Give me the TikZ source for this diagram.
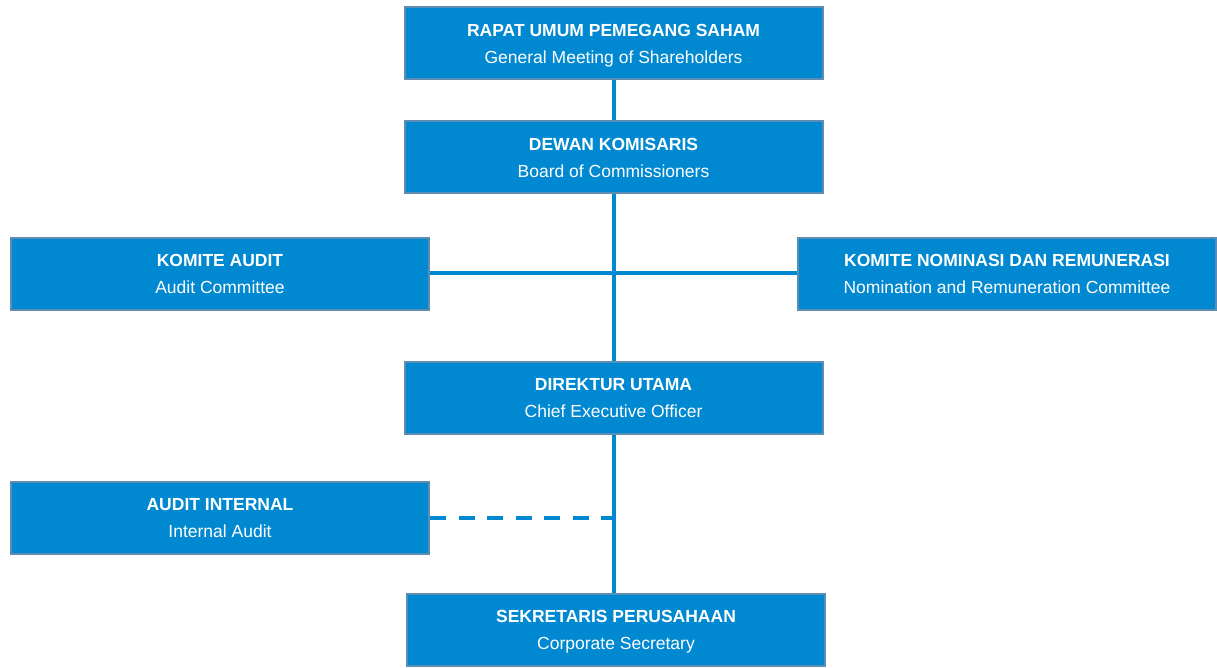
\documentclass[tikz,border=0pt]{standalone}
\usepackage{fontspec}
\setmainfont{Liberation Sans}
\definecolor{boxblue}{HTML}{0088D1}
\definecolor{boxedge}{HTML}{5E8DB3}
\definecolor{lineblue}{HTML}{0088D1}
\begin{document}
\begin{tikzpicture}[x=1pt,y=-1pt,
  orgbox/.style={draw=boxedge,line width=2pt,fill=boxblue,text=white,align=center,
     minimum width=#1,minimum height=72pt,inner sep=0pt,text depth=0pt,font=\fontsize{17.5}{27}\selectfont},
  orgbox/.default=418pt,
  conn/.style={draw=lineblue,line width=4pt},
  dconn/.style={draw=lineblue,line width=4pt,dash pattern=on 16pt off 12.5pt}]
\useasboundingbox (0,0) rectangle (1217,668);
\node[orgbox] (rups) at (613.5,43.5) {\textbf{RAPAT UMUM PEMEGANG SAHAM}\\General Meeting of Shareholders};
\node[orgbox] (dk) at (613.5,157.5) {\textbf{DEWAN KOMISARIS}\\Board of Commissioners};
\node[orgbox] (ka) at (220,274) {\textbf{KOMITE AUDIT}\\Audit Committee};
\node[orgbox] (knr) at (1007,274) {\textbf{KOMITE NOMINASI DAN REMUNERASI}\\Nomination and Remuneration Committee};
\node[orgbox] (du) at (613.5,397.5) {\textbf{DIREKTUR UTAMA}\\Chief Executive Officer};
\node[orgbox] (ai) at (220,518) {\textbf{AUDIT INTERNAL}\\Internal Audit};
\node[orgbox] (sp) at (616,630) {\textbf{SEKRETARIS PERUSAHAAN}\\Corporate Secretary};
\coordinate (j1) at (613.5,273);
\coordinate (j2) at (613.5,518);
\draw[conn] (rups.south) -- (dk.north);
\draw[conn] (dk.south) -- (du.north);
\draw[conn] (du.south) -- (sp.north -| du.south);
\draw[conn] (ka.east |- j1) -- (knr.west |- j1);
\draw[dconn] (ai.east |- j2) -- (j2);
\end{tikzpicture}
\end{document}
